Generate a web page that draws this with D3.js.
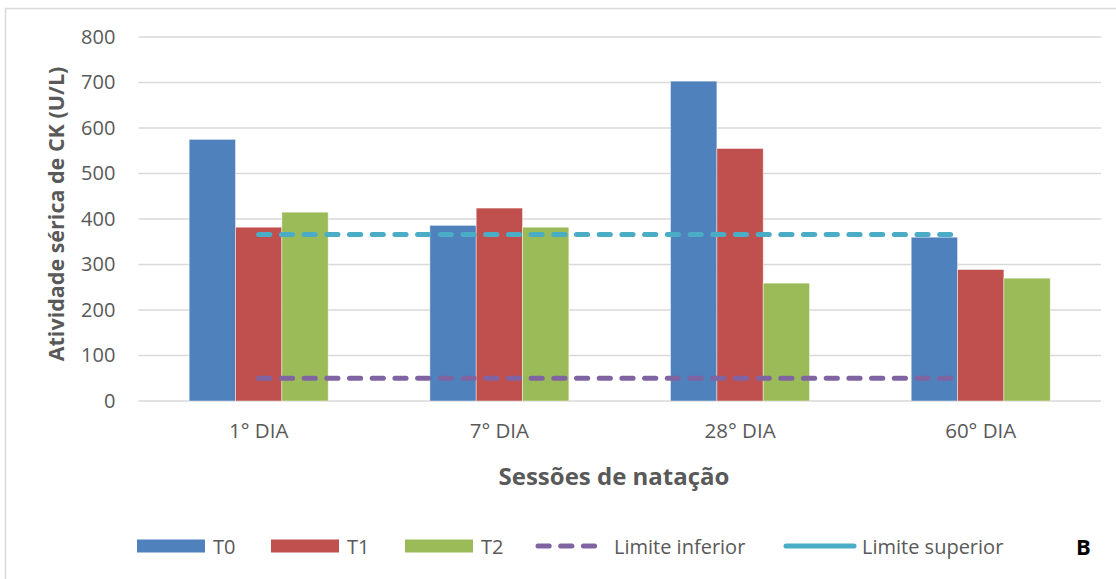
<!DOCTYPE html>
<html>
<head>
<meta charset="utf-8">
<script src="https://cdn.jsdelivr.net/npm/d3@7"></script>
<style>
  html, body { margin: 0; padding: 0; background: #fff; }
  svg { display: block; font-family: "Open Sans", sans-serif; }
</style>
</head>
<body>
<svg id="chart" width="1116" height="579"></svg>
<script>
// Serum CK activity by swimming session
const categories = ["1° DIA", "7° DIA", "28° DIA", "60° DIA"];
const seriesNames = ["T0", "T1", "T2"];
const T0 = [575, 386, 703, 360];
const T1 = [382, 424, 555, 289];
const T2 = [415, 382, 259, 270];
const limiteInferior = [50, 50, 50, 50];
const limiteSuperior = [366, 366, 366, 366];
const yTicks = [0, 100, 200, 300, 400, 500, 600, 700, 800];

const colors = { T0: "#4F81BD", T1: "#C0504D", T2: "#9BBB59", inf: "#8064A2", sup: "#4BACC6" };
const seriesValues = { T0, T1, T2 };

const svg = d3.select("#chart");
const margin = { left: 138.4, right: 1101, top: 37, bottom: 401 };

// chart frame
svg.append("rect")
  .attr("x", 5.5).attr("y", 8.5)
  .attr("width", 1120).attr("height", 580)
  .attr("fill", "none").attr("stroke", "#d9d9d9").attr("stroke-width", 1.5);

const y = d3.scaleLinear().domain([0, 800]).range([margin.bottom, margin.top]);
const x = d3.scaleBand().domain(categories)
  .range([margin.left, margin.right])
  .paddingInner(0.4225).paddingOuter(0.211);
const xs = d3.scaleBand().domain(seriesNames).range([0, x.bandwidth()]);

// gridlines
svg.append("g").selectAll("line").data(yTicks).join("line")
  .attr("x1", margin.left).attr("x2", margin.right)
  .attr("y1", d => y(d)).attr("y2", d => y(d))
  .attr("stroke", "#d9d9d9").attr("stroke-width", 1.3);

// y axis labels
const yAxis = d3.axisLeft(y).tickValues(yTicks).tickSize(0).tickPadding(23);
svg.append("g").attr("transform", `translate(${margin.left},0)`).call(yAxis)
  .call(g => g.select(".domain").remove())
  .call(g => g.selectAll("text").attr("font-size", 20).attr("fill", "#595959")
    .attr("font-family", "Open Sans, sans-serif"));

// x axis labels
const xAxis = d3.axisBottom(x).tickSize(0).tickPadding(22);
svg.append("g").attr("transform", `translate(0,${margin.bottom})`).call(xAxis)
  .call(g => g.select(".domain").remove())
  .call(g => g.selectAll("text").attr("font-size", 20.5).attr("fill", "#595959")
    .attr("font-family", "Open Sans, sans-serif"));

// bars
const groups = svg.append("g").selectAll("g").data(categories).join("g")
  .attr("transform", d => `translate(${x(d)},0)`);
groups.selectAll("rect")
  .data((c, i) => seriesNames.map(s => ({ s, v: seriesValues[s][i] })))
  .join("rect")
  .attr("x", d => xs(d.s))
  .attr("width", xs.bandwidth())
  .attr("y", d => y(d.v))
  .attr("height", d => y(0) - y(d.v))
  .attr("fill", d => colors[d.s])
  .attr("stroke", "rgba(255,255,255,0.55)")
  .attr("stroke-width", 0.8);

// reference limit lines
const lineX = d3.scalePoint().domain(categories)
  .range([x(categories[0]) + x.bandwidth() / 2,
          x(categories[3]) + x.bandwidth() / 2 - x.step() * 0.125]);
const line = d3.line().x((d, i) => lineX(categories[i])).y(d => y(d));
[[limiteInferior, colors.inf], [limiteSuperior, colors.sup]].forEach(([vals, col]) => {
  svg.append("path").attr("d", line(vals))
    .attr("fill", "none").attr("stroke", col).attr("stroke-width", 5)
    .attr("stroke-linecap", "round").attr("stroke-dasharray", "11.2 11.5");
});

// axis titles
svg.append("text")
  .attr("transform", `translate(55,${(margin.top + margin.bottom) / 2 - 5}) rotate(-90)`)
  .attr("text-anchor", "middle").attr("dominant-baseline", "central")
  .attr("font-size", 21.5).attr("font-weight", "bold").attr("fill", "#595959")
  .text("Atividade sérica de CK (U/L)");
svg.append("text")
  .attr("x", 614).attr("y", 475)
  .attr("text-anchor", "middle").attr("dominant-baseline", "central")
  .attr("font-size", 24).attr("font-weight", "bold").attr("fill", "#595959")
  .text("Sessões de natação");

// legend
const legendY = 546;
const legend = svg.append("g");
const legendItems = [
  { name: "T0", type: "rect", color: colors.T0, x0: 137 },
  { name: "T1", type: "rect", color: colors.T1, x0: 271 },
  { name: "T2", type: "rect", color: colors.T2, x0: 405 },
  { name: "Limite inferior", type: "dash", color: colors.inf, x0: 538 },
  { name: "Limite superior", type: "solid", color: colors.sup, x0: 786 }
];
legendItems.forEach(it => {
  if (it.type === "rect") {
    legend.append("rect").attr("x", it.x0).attr("y", legendY - 6.5)
      .attr("width", 68).attr("height", 13).attr("fill", it.color);
  } else {
    legend.append("line").attr("x1", it.x0).attr("x2", it.x0 + 68)
      .attr("y1", legendY).attr("y2", legendY)
      .attr("stroke", it.color).attr("stroke-width", 5).attr("stroke-linecap", "round")
      .attr("stroke-dasharray", it.type === "dash" ? "11.2 11.5" : null);
  }
  legend.append("text").attr("x", it.x0 + 76).attr("y", legendY)
    .attr("dominant-baseline", "central")
    .attr("font-size", 20).attr("fill", "#595959")
    .text(it.name);
});

svg.append("text").attr("x", 1076).attr("y", legendY)
  .attr("dominant-baseline", "central")
  .attr("font-size", 22).attr("font-weight", "bold").attr("fill", "#000")
  .text("B");
</script>
</body>
</html>
